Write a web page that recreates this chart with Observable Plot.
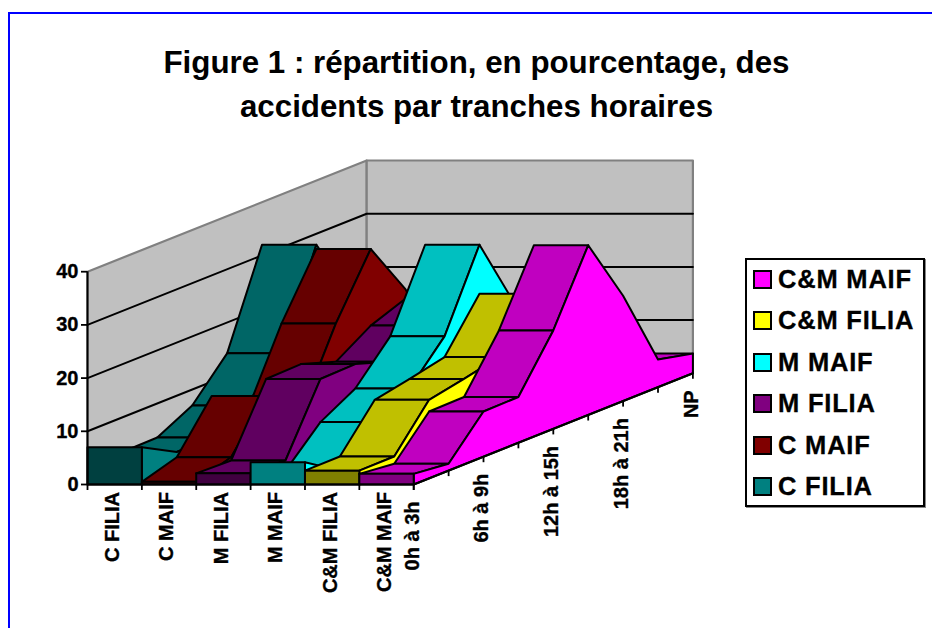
<!DOCTYPE html>
<html lang="fr">
<head>
<meta charset="utf-8">
<script src="https://cdn.jsdelivr.net/npm/d3@7"></script>
<script src="https://cdn.jsdelivr.net/npm/@observablehq/plot@0.6"></script>
<style>
html,body{margin:0;padding:0;background:#fff;overflow:hidden}
#page{position:relative;width:932px;height:628px;font-family:"Liberation Sans",Arial,sans-serif;font-weight:bold;color:#000}
#frame{position:absolute;left:8px;top:12px;right:-4px;bottom:-4px;border:2px solid #0000ff;box-sizing:border-box}
#title{position:absolute;left:0;top:41px;width:953px;text-align:center;font-size:31.3px;line-height:44px}
#chart{position:absolute;left:0;top:0}
#chart svg{display:block;background:transparent}
#chart text{stroke:#000;stroke-width:.35px}
#legend{position:absolute;left:745px;top:258px;width:180px;height:249px;box-sizing:border-box;border:2px solid #000;box-shadow:1px 1px 0 #888;background:#fff}
.row{position:absolute;left:6px;height:20px;display:flex;align-items:center;white-space:nowrap;font-size:25.5px;letter-spacing:.8px;-webkit-text-stroke:.3px #000}
.sw{width:15px;height:15px;border:2px solid #000;margin-right:6px;flex:none}
</style>
</head>
<body>
<div id="page">
<div id="frame"></div>
<div id="title">Figure 1 : répartition, en pourcentage, des<br>accidents par tranches horaires</div>
<div id="chart"></div>
<div id="legend"></div>
</div>
<script>
const seriesNames = ["C FILIA","C MAIF","M FILIA","M MAIF","C&M FILIA","C&M MAIF"];
const hours = ["0h à 3h","3h à 6h","6h à 9h","9h à 12h","12h à 15h","15h à 18h","18h à 21h","21h à 0h","NP"];
const cFilia  = [7, 3.5, 3.6, 7, 14.2, 32, 20, 5, 3];
const cMaif   = [0.5, 2.5, 11.4, 5.7, 19.8, 31.2, 21, 5, 3];
const mFilia  = [2.1, 1.9, 14.6, 14.8, 12.6, 16.8, 19.3, 6, 3];
const mMaif   = [4.2, 0, 6.5, 10.2, 17.4, 32, 18.4, 5, 3];
const cmFilia = [2.6, 2.65, 10.7, 12, 13.5, 22.8, 12, 4, 3];
const cmMaif  = [2, 1.3, 8.5, 8.6, 18.5, 31.9, 19.8, 5.2, 3.7];
const values = [cFilia, cMaif, mFilia, mMaif, cmFilia, cmMaif];
const sideColors  = ["#008080","#800000","#800080","#00ffff","#ffff00","#ff00ff"];
const topColors   = ["#006666","#660000","#600060","#00c0c0","#c0c000","#c000c0"];
const frontColors = ["#004040","#400000","#400040","#008080","#808000","#800080"];
const yTicks = [0,10,20,30,40];

// oblique projection expressed in data units: each step along the hours axis
// shifts a point right (in series widths) and up (in percentage points)
const shearX = 34.9/54.37, shearY = 13.9/5.32;
const nS = seriesNames.length, nK = hours.length, lastK = nK-1;
const px = d => d.s + d.k*shearX;
const py = d => d.v + d.k*shearY;

const polys = [];
let id = 0;
function poly(pts, fill){ id++; pts.concat([pts[0]]).forEach(p => polys.push({id, fill, s:p[0], k:p[1], v:p[2]})); }

values.forEach((vals,s) => {
  for (let k = lastK-1; k >= 0; k--) {
    if (vals[k+1]-vals[k] > -shearY) // only the faces turned towards the viewer
      poly([[s,k,vals[k]],[s+1,k,vals[k]],[s+1,k+1,vals[k+1]],[s,k+1,vals[k+1]]], topColors[s]);
  }
  const side = vals.map((v,k)=>[s+1,k,v]);
  poly(side.concat([[s+1,lastK,0],[s+1,0,0]]), sideColors[s]);
  poly([[s,0,0],[s,0,vals[0]],[s+1,0,vals[0]],[s+1,0,0]], frontColors[s]);
});

const wallLeft = [{s:0,k:0,v:0},{s:0,k:lastK,v:0},{s:0,k:lastK,v:40},{s:0,k:0,v:40},{s:0,k:0,v:0}];
const wallBack = [{s:0,k:lastK,v:0},{s:nS,k:lastK,v:0},{s:nS,k:lastK,v:40},{s:0,k:lastK,v:40},{s:0,k:lastK,v:0}];
const grid = yTicks.filter(v=>v>0 && v<40).flatMap(v=>[
  {z:v,s:0,k:0,v},{z:v,s:0,k:lastK,v},{z:v,s:nS,k:lastK,v}
]);
const depthAxis = [{s:nS,k:0,v:0},{s:nS,k:lastK,v:0}];
const hourTicks = hours.map((h,k)=>({s:nS,k,v:0}));
const hourLabels = hours.map((h,k)=>({h,s:nS,k,v:0})).filter(d=>d.k%2===0);
const seriesLabels = seriesNames.map((n,i)=>({n,x:i+.5}));
const tickLen = 1.13;

const plot = Plot.plot({
  width:932, height:628,
  marginLeft:87, marginRight:932-692.4, marginTop:160, marginBottom:144,
  x:{domain:[0,nS+lastK*shearX]},
  y:{domain:[0,40+lastK*shearY]},
  color:{type:"identity"},
  style:{fontFamily:'"Liberation Sans",Arial,sans-serif',fontWeight:"bold",background:"transparent",color:"#000"},
  marks:[
    Plot.line(wallLeft,{x:px,y:py,fill:"#c0c0c0",stroke:"#808080",strokeWidth:2.2}),
    Plot.line(wallBack,{x:px,y:py,fill:"#c0c0c0",stroke:"#808080",strokeWidth:2.2}),
    Plot.line(grid,{x:px,y:py,z:"z",stroke:"#000",strokeWidth:2}),
    Plot.line(polys,{x:px,y:py,z:"id",fill:"fill",stroke:"#000",strokeWidth:2}),
    Plot.ruleX([0],{y1:0,y2:40,stroke:"#000",strokeWidth:2}),
    Plot.ruleY([0],{x1:0,x2:nS,stroke:"#000",strokeWidth:2}),
    Plot.line(depthAxis,{x:px,y:py,stroke:"#000",strokeWidth:2}),
    Plot.ruleX(hourTicks,{x:px,y1:d=>py(d),y2:d=>py(d)-tickLen,stroke:"#000",strokeWidth:1.8}),
    Plot.axisY({ticks:yTicks,tickSize:6,tickPadding:3,label:null,fontSize:20,strokeWidth:1.8,stroke:"#000"}),
    Plot.axisX({ticks:d3.range(nS+1),tickSize:6,tickFormat:()=>"",label:null,strokeWidth:1.8,stroke:"#000"}),
    Plot.text(seriesLabels,{x:"x",y:()=>0,text:"n",rotate:-90,textAnchor:"end",lineAnchor:"middle",dy:7.5,dx:-2,fontSize:20,fill:"#000"}),
    Plot.text(hourLabels,{x:px,y:py,text:"h",rotate:-90,textAnchor:"end",lineAnchor:"middle",dy:17,dx:-1.5,fontSize:20,fill:"#000"})
  ]
});
document.getElementById("chart").appendChild(plot);

const legend = document.getElementById("legend");
const legendNames = ["C&M MAIF","C&M FILIA","M MAIF","M FILIA","C MAIF","C FILIA"];
legendNames.forEach((n,i)=>{
  const s = seriesNames.indexOf(n);
  const row = document.createElement("div");
  row.className="row";
  row.style.top = (9.5 + i*41.4) + "px";
  const sw = document.createElement("span");
  sw.className="sw"; sw.style.background = sideColors[s];
  const t = document.createElement("span");
  t.textContent = n;
  row.append(sw,t);
  legend.appendChild(row);
});
</script>
</body>
</html>
